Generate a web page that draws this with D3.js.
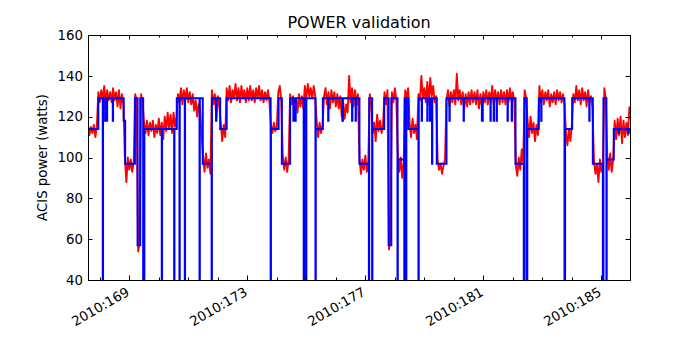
<!DOCTYPE html>
<html>
<head>
<meta charset="utf-8">
<script src="https://cdn.jsdelivr.net/npm/d3@7"></script>
<style>
  body { margin: 0; background: #fff; }
  text { font-family: "DejaVu Sans", sans-serif; fill: #000; }
</style>
</head>
<body>
<svg id="chart" width="700" height="350"></svg>
<script>
/* Achsen / Beschriftung */
const yTicks = [40, 60, 80, 100, 120, 140, 160];
const xMajorDays = [169, 173, 177, 181, 185];
const xMinorDays = [168, 169, 170, 171, 172, 173, 174, 175, 176, 177, 178, 179, 180, 181, 182, 183, 184, 185];
const xTickLabels = ["2010:169", "2010:173", "2010:177", "2010:181", "2010:185"];
const dayRange = [167.60, 185.97];

/* Modell (blau): Stufen [Tag, Watt], Wert gilt bis zum naechsten Punkt */
const modelSteps = [
  [167.60, 114], [167.95, 129],
  [168.10, 0], [168.11, 129],
  [168.18, 118], [168.19, 129],
  [168.24, 118], [168.25, 129],
  [168.44, 118], [168.45, 129],
  [168.81, 118], [168.86, 97],
  [169.19, 129], [169.28, 57], [169.37, 129],
  [169.47, 0], [169.51, 114],
  [170.10, 0], [170.11, 114],
  [170.52, 0], [170.53, 114],
  [170.61, 129],
  [170.70, 0], [170.71, 129],
  [170.88, 0], [170.89, 129],
  [171.38, 0], [171.39, 129],
  [171.49, 97],
  [171.79, 0], [171.80, 129],
  [171.94, 118], [171.95, 129],
  [172.08, 114], [172.30, 129],
  [173.79, 0], [173.80, 114],
  [174.06, 129], [174.17, 97], [174.45, 129],
  [174.56, 118], [174.57, 129], [174.63, 118], [174.64, 129],
  [174.91, 0], [174.92, 129], [174.99, 0], [175.00, 129],
  [175.31, 0], [175.32, 114],
  [175.56, 129],
  [175.74, 118], [175.75, 129],
  [176.22, 118], [176.24, 129],
  [176.55, 118], [176.56, 129],
  [176.67, 118], [176.68, 129],
  [176.80, 97],
  [177.12, 0], [177.13, 129],
  [177.23, 0], [177.24, 114],
  [177.64, 129], [177.79, 57], [177.88, 129],
  [178.09, 0], [178.10, 99],
  [178.32, 0], [178.33, 129],
  [178.38, 0], [178.39, 129],
  [178.46, 114],
  [178.80, 0], [178.81, 129],
  [178.91, 118], [178.92, 129],
  [179.10, 118], [179.11, 129],
  [179.19, 118], [179.20, 129],
  [179.26, 97], [179.27, 129],
  [179.42, 97], [179.75, 129],
  [179.85, 118], [179.86, 129],
  [180.33, 118], [180.34, 129],
  [180.95, 118], [180.98, 129],
  [181.24, 118], [181.25, 129],
  [181.35, 118], [181.36, 129],
  [181.45, 118], [181.46, 129],
  [181.82, 118], [181.83, 129],
  [181.96, 118], [181.97, 129],
  [182.09, 97],
  [182.37, 0], [182.39, 129],
  [182.47, 0], [182.49, 114],
  [182.88, 129],
  [182.96, 118], [182.97, 129],
  [183.75, 0], [183.77, 114],
  [184.01, 129],
  [184.59, 118], [184.60, 129],
  [184.71, 97],
  [185.05, 0], [185.07, 129],
  [185.17, 0], [185.18, 99],
  [185.42, 114],
  [185.58, 112], [185.59, 114],
  [185.92, 112], [185.93, 114],
  [185.97, 114]
];

/* Telemetrie (rot): Abtastung alle 0.05 Tage ab redStart */
const redStart = 167.60;
const redStep = 0.05;
const redPower = [
  116, 111, 115, 112, 116, 110, 115,
  132, 127, 133, 128, 135, 126, 133, 128, 132, 127, 134, 128, 132, 125, 133, 124, 131, 126,
  100,
  88, 100, 94, 99, 93, 98,
  131, 128,
  54, 58,
  131, 127,
  117, 112, 118, 111, 117, 113, 118, 110, 116, 112, 119, 111, 117, 109, 120, 113, 122, 114, 121, 112, 122, 115, 120,
  131, 127, 134, 126, 133, 128, 134, 127, 132, 126, 131, 123, 128, 120, 126,
  124, 110,
  101, 93, 102, 95, 99, 92,
  133, 126, 131, 119, 130, 125,
  117, 108, 116, 110,
  134, 128, 135, 127, 133, 129, 136, 128, 134, 127, 135, 129, 133, 127, 134,
  128, 135, 128, 133, 127, 134, 129, 135, 128, 133, 127, 132, 128, 133, 127,
  116, 112, 117, 113, 115,
  132, 135, 128,
  101, 94, 100, 93, 99,
  131, 126, 130, 121, 129, 122, 131, 125, 130, 124, 135, 129, 136, 130, 134, 129, 135, 130,
  118, 110, 117, 112, 116,
  130, 134, 126, 132, 124, 133, 127, 132, 125, 131, 124, 130, 120, 127, 119, 126, 122, 140, 127, 134, 125, 133, 126, 131,
  100, 92, 99, 94, 101, 93, 98,
  131, 127,
  112, 117, 108, 121, 113, 118, 112, 116,
  132, 126, 133,
  55, 60,
  132, 127, 134, 128,
  102, 93, 100, 90, 98,
  133, 129, 134,
  117, 110, 119, 112, 116, 109,
  131, 128, 140, 129, 134, 127, 137, 126, 139, 130, 135, 127, 130,
  99, 94, 97, 92, 96, 99,
  128, 133, 125, 132, 127, 133, 126, 141, 128, 133, 126, 132, 124, 131, 125, 132,
  126, 133, 127, 132, 126, 133, 124, 131, 125, 132, 127, 133, 126, 132, 127, 135,
  126, 133, 127, 132, 126, 133, 127, 132, 126, 133, 127, 134, 128, 132, 127,
  96, 91, 100, 94, 104, 97,
  133, 129,
  118, 110, 120, 112, 117, 108, 116, 111,
  135, 127, 133, 126, 132, 128, 133, 125, 131, 127, 132, 126, 133, 128, 132, 127, 131, 126,
  112, 106, 114, 108, 116,
  131, 127, 135, 128, 133, 126, 134, 128, 132, 125, 133, 127, 130, 124,
  98, 92, 97, 88, 99, 93, 97,
  134, 129,
  101, 94, 102, 93, 99,
  118, 109, 119, 111, 120, 107, 118, 110, 117, 111, 125
];

const width = 700, height = 350;
const margin = { left: 88, right: 70, top: 35, bottom: 70 };
const plotW = width - margin.left - margin.right;
const plotH = height - margin.top - margin.bottom;

const svg = d3.select("#chart");
svg.append("rect").attr("width", width).attr("height", height).attr("fill", "#fff");

const x = d3.scaleLinear().domain(dayRange).range([margin.left, margin.left + plotW]);
const y = d3.scaleLinear().domain([40, 160]).range([margin.top + plotH, margin.top]);

svg.append("clipPath").attr("id", "plotClip")
  .append("rect")
  .attr("x", margin.left).attr("y", margin.top)
  .attr("width", plotW).attr("height", plotH);

const plot = svg.append("g").attr("clip-path", "url(#plotClip)");

/* rote Linie (Messwerte) */
const redLine = d3.line()
  .x((d, i) => x(redStart + i * redStep))
  .y(d => y(d));
plot.append("path")
  .datum(redPower)
  .attr("fill", "none")
  .attr("stroke", "#ff0000")
  .attr("stroke-width", 1.9)
  .attr("stroke-linejoin", "round")
  .attr("d", redLine);

/* blaue Linie (Modell) */
const blueLine = d3.line()
  .x(d => x(d[0]))
  .y(d => y(d[1]))
  .curve(d3.curveStepAfter);
plot.append("path")
  .datum(modelSteps)
  .attr("fill", "none")
  .attr("stroke", "#0000ff")
  .attr("stroke-width", 2)
  .attr("d", blueLine);

/* Rahmen */
svg.append("rect")
  .attr("x", margin.left + 0.5).attr("y", margin.top + 0.5)
  .attr("width", plotW).attr("height", plotH)
  .attr("fill", "none").attr("stroke", "#000").attr("stroke-width", 1);

/* Ticks nach innen, wie matplotlib */
const ticks = svg.append("g").attr("stroke", "#000").attr("stroke-width", 1);
const x0 = margin.left, x1 = margin.left + plotW, y0 = margin.top, y1 = margin.top + plotH;

yTicks.forEach(v => {
  const yy = Math.round(y(v)) + 0.5;
  ticks.append("line").attr("x1", x0).attr("x2", x0 + 4.5).attr("y1", yy).attr("y2", yy);
  ticks.append("line").attr("x1", x1).attr("x2", x1 - 4.5).attr("y1", yy).attr("y2", yy);
});
xMinorDays.forEach(d => {
  const len = xMajorDays.includes(d) ? 4.5 : 2.5;
  const xx = Math.round(x(d)) + 0.5;
  ticks.append("line").attr("x1", xx).attr("x2", xx).attr("y1", y1).attr("y2", y1 - len);
  ticks.append("line").attr("x1", xx).attr("x2", xx).attr("y1", y0).attr("y2", y0 + len);
});

/* Beschriftung y */
svg.append("g").selectAll("text")
  .data(yTicks)
  .join("text")
  .attr("x", x0 - 5)
  .attr("y", d => y(d))
  .attr("dy", "0.36em")
  .attr("text-anchor", "end")
  .attr("font-size", 13.3)
  .text(d => d);

/* Beschriftung x, 30 Grad gedreht */
svg.append("g").selectAll("text")
  .data(xMajorDays)
  .join("text")
  .attr("transform", d => `translate(${x(d) - 4},${y1 + 6}) rotate(-30)`)
  .attr("dy", "0.75em")
  .attr("text-anchor", "end")
  .attr("font-size", 13.3)
  .text((d, i) => xTickLabels[i]);

/* Titel und Achsentitel */
svg.append("text")
  .attr("x", (x0 + x1) / 2)
  .attr("y", 28)
  .attr("text-anchor", "middle")
  .attr("font-size", 16)
  .text("POWER validation");

svg.append("text")
  .attr("transform", `translate(47,${(y0 + y1) / 2}) rotate(-90)`)
  .attr("text-anchor", "middle")
  .attr("font-size", 13.3)
  .text("ACIS power (watts)");
</script>
</body>
</html>
